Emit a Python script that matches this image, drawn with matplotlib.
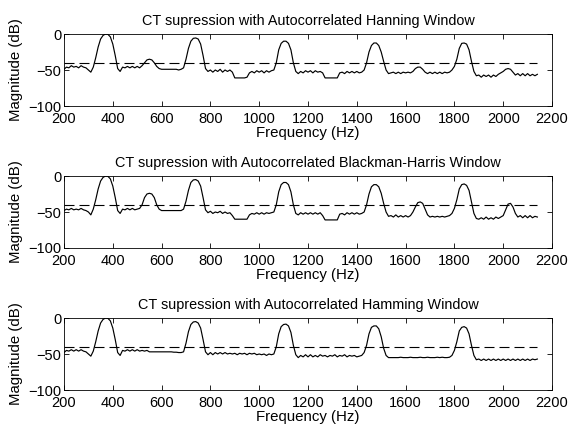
import numpy as np
import matplotlib
matplotlib.use("Agg")
import matplotlib.pyplot as plt

plt.rcParams['font.family'] = ['Liberation Sans', 'DejaVu Sans']

freq = np.arange(200, 2141, 10)
threshold = -40

hanning = [
    -49, -46, -47, -44, -46, -45, -47, -44, -46, -47,
    -50, -53, -46, -33, -18, -7, -2, 0, -0.5, -4,
    -14, -30, -48, -52, -46, -47, -45, -47, -45, -47,
    -45, -47, -44, -40, -36, -35, -36, -40, -45, -48,
    -49, -49, -49, -49, -49, -49, -49, -50, -49, -47,
    -35, -20, -10, -6, -5.5, -7, -14, -30, -48, -52,
    -50, -53, -50, -52, -49, -53, -50, -52, -50, -53,
    -61, -61, -61, -61, -61, -60, -54, -52, -54, -51,
    -53, -51, -54, -51, -53, -51, -50, -40, -22, -13,
    -10, -10, -13, -22, -40, -52, -55, -52, -54, -51,
    -53, -51, -54, -51, -53, -52, -54, -61, -61, -61,
    -61, -61, -61, -54, -53, -55, -52, -54, -52, -54,
    -52, -54, -53, -50, -40, -25, -16, -12.5, -12.5, -16,
    -25, -38, -50, -55, -54, -53, -55, -53, -55, -53,
    -54, -53, -54, -52, -48, -46, -46, -49, -53, -55,
    -53, -55, -53, -55, -53, -55, -53, -54, -53, -50,
    -45, -35, -20, -13, -12.5, -14, -22, -38, -52, -58,
    -57, -60, -57, -59, -57, -60, -57, -59, -56, -54,
    -52, -49, -48, -49, -53, -57, -55, -58, -55, -58,
    -55, -58, -56, -58, -56,
]

blackman_harris = [
    -48, -46, -47, -45, -47, -46, -47, -45, -47, -48,
    -50, -54, -46, -33, -18, -7, -2, 0, -0.5, -4,
    -14, -30, -48, -52, -46, -47, -45, -47, -45, -47,
    -46, -45, -40, -30, -25, -24, -25, -30, -40, -46,
    -48, -48, -48, -48, -48, -48, -48, -48, -48, -46,
    -35, -20, -9, -5.5, -5, -7, -14, -30, -47, -51,
    -49, -52, -50, -51, -49, -52, -50, -52, -51, -55,
    -60, -60, -60, -60, -60, -60, -54, -52, -53, -51,
    -53, -51, -53, -51, -52, -51, -50, -40, -22, -12,
    -9, -9, -12, -22, -40, -52, -54, -51, -53, -51,
    -53, -51, -53, -51, -53, -51, -55, -61, -61, -61,
    -61, -61, -61, -53, -52, -54, -51, -53, -51, -53,
    -51, -53, -52, -50, -40, -25, -15, -12, -12, -15,
    -24, -38, -50, -56, -55, -57, -54, -57, -55, -57,
    -55, -57, -55, -50, -43, -37, -36, -38, -46, -54,
    -57, -56, -57, -56, -57, -56, -57, -56, -55, -52,
    -45, -33, -18, -12, -11, -13, -20, -36, -52, -59,
    -60, -58, -60, -57, -60, -58, -60, -57, -59, -57,
    -55, -47, -39, -38, -43, -52, -57, -55, -58, -55,
    -58, -55, -58, -56, -57,
]

hamming = [
    -48, -45, -46, -44, -46, -44, -46, -44, -46, -47,
    -50, -53, -46, -33, -18, -7, -2, 0, -0.5, -4,
    -14, -30, -48, -52, -45, -46, -44, -46, -44, -46,
    -44, -46, -45, -46, -45, -47, -47, -47, -47, -47,
    -47, -47, -47, -47, -47, -47.5, -47.5, -48, -48, -47,
    -35, -19, -9, -5.5, -5, -7, -14, -30, -47, -51,
    -48, -51, -48, -50, -48, -50, -48, -50, -49, -50,
    -49, -51, -49, -50, -49, -51, -49, -50, -49, -51,
    -50, -51, -50, -52, -50, -51, -50, -40, -22, -12,
    -9, -8.5, -11, -20, -38, -51, -55, -52, -54, -51,
    -54, -51, -54, -52, -54, -51, -53, -52, -54, -52,
    -53, -51, -54, -52, -53, -51, -54, -52, -53, -52,
    -54, -53, -52, -48, -38, -22, -13, -11, -11, -15,
    -26, -42, -52, -55, -55, -55, -55, -55, -54.5, -55,
    -55, -55, -54.5, -55, -55, -55, -54.5, -55, -55, -54.5,
    -55, -55, -55, -54.5, -55, -54.5, -55, -55, -54.5, -52,
    -45, -33, -18, -13, -12, -14, -22, -38, -52, -58,
    -57, -59, -57, -59, -57, -59, -57, -59, -57, -59,
    -57, -59, -57, -59, -57, -59, -57, -59, -57, -59,
    -57, -59, -57, -58, -57,
]

titles = [
    "CT supression with Autocorrelated Hanning Window",
    "CT supression with Autocorrelated Blackman-Harris Window",
    "CT supression with Autocorrelated Hamming Window",
]
series = [hanning, blackman_harris, hamming]
xticks = [200, 400, 600, 800, 1000, 1200, 1400, 1600, 1800, 2000, 2200]
yticks = [-100, -50, 0]

fig = plt.figure(figsize=(5.68, 4.29), dpi=100)
left, width = 64 / 568, (552 - 64) / 568
tops = [34, 176, 318]
h = 72
for i, (ttl, ys) in enumerate(zip(titles, series)):
    top = tops[i]
    ax = fig.add_axes([left, 1 - (top + h) / 429, width, h / 429])
    ax.plot(freq, ys, color='black', lw=0.85)
    ax.plot([freq[0], freq[-1]], [threshold, threshold], color='black',
            lw=0.8, dashes=(9, 4.5))
    ax.set_xlim(200, 2200)
    ax.set_ylim(-100, 0)
    ax.set_xticks(xticks)
    ax.set_yticks(yticks)
    ax.tick_params(direction='in', top=True, right=True, length=3.5,
                   labelsize=10.5, width=0.6)
    ax.tick_params(axis='x', pad=4.5)
    ax.tick_params(axis='y', pad=2)
    for s in ax.spines.values():
        s.set_linewidth(0.6)
    ax.set_title(ttl, fontsize=10.4, pad=6.5)
    ax.set_xlabel("Frequency (Hz)", fontsize=10.8, labelpad=0)
    ax.set_ylabel("Magnitude (dB)", fontsize=10.8, labelpad=4)

fig.savefig("out.png", dpi=100)
